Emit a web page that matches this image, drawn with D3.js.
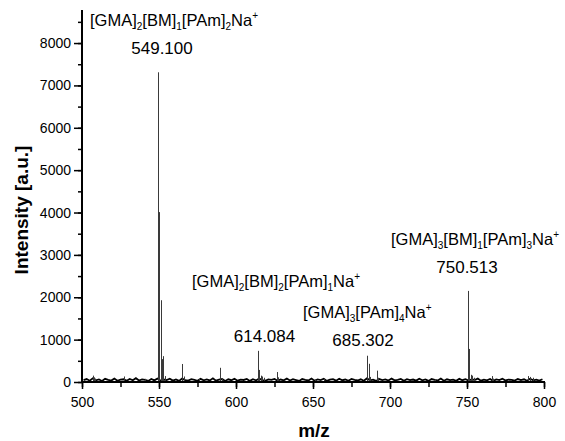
<!DOCTYPE html>
<html><head><meta charset="utf-8">
<script src="https://cdn.jsdelivr.net/npm/d3@7"></script>
<style>
html,body{margin:0;padding:0;background:#fff;}
svg{display:block;}
text{font-family:"Liberation Sans",Arial,Helvetica,sans-serif;fill:#000;}
</style></head>
<body>
<script>
// ---------- data ----------
const xTicks = [500, 550, 600, 650, 700, 750, 800];
const yTicks = [0, 1000, 2000, 3000, 4000, 5000, 6000, 7000, 8000];
const xTitle = "m/z";
const yTitle = "Intensity [a.u.]";

// peak positions (m/z) and intensities (a.u.)
const peakMz = [507.0, 507.8, 508.6, 527.3, 541.0, 549.1, 550.1, 551.1, 552.1, 552.8, 553.8,
  565.1, 566.1, 576.0, 589.7, 590.6, 614.08, 615.1, 616.1, 617.1, 618.1, 626.3, 627.3,
  651.0, 657.3, 685.3, 686.3, 687.3, 691.3, 692.3, 729.0, 750.5, 751.5, 752.5, 753.5,
  754.5, 766.0, 767.0, 789.8, 791.0, 792.6];
const peakInt = [150, 110, 80, 130, 75, 7310, 4010, 1930, 540, 610, 140,
  425, 130, 70, 335, 90, 735, 285, 150, 130, 100, 235, 110,
  60, 85, 620, 430, 120, 268, 100, 55, 2150, 780, 170, 150,
  100, 140, 80, 140, 120, 100];

// baseline noise, sampled every 2 m/z from 501
const noiseStart = 501, noiseStep = 2;
const noise = [45,70,30,85,40,60,25,75,50,35,80,30,55,65,28,72,40,90,35,60,
 48,25,70,38,82,30,58,44,76,32,62,26,80,46,34,68,52,28,74,40,
 60,36,86,30,54,70,24,64,42,78,32,56,48,72,26,66,38,84,44,30,
 62,50,74,28,58,40,80,34,66,46,24,70,52,36,82,30,60,44,76,26,
 54,68,32,78,42,58,28,72,48,36,64,30,84,40,56,26,70,46,62,34,
 80,38,52,74,28,66,44,58,32,76,40,60,26,70,50,36,82,30,64,46,
 56,28,74,42,68,34,60,48,80,30,54,40,72,26,62,44,78,36,58,50,
 32,70,46,64,28,76,40,56,34,66];

// annotations: formula parts [text, kind] and m/z label
const annFormulas = [
  [["[GMA]",""],["2","sub"],["[BM]",""],["1","sub"],["[PAm]",""],["2","sub"],["Na",""],["+","sup"]],
  [["[GMA]",""],["2","sub"],["[BM]",""],["2","sub"],["[PAm]",""],["1","sub"],["Na",""],["+","sup"]],
  [["[GMA]",""],["3","sub"],["[PAm]",""],["4","sub"],["Na",""],["+","sup"]],
  [["[GMA]",""],["3","sub"],["[BM]",""],["1","sub"],["[PAm]",""],["3","sub"],["Na",""],["+","sup"]]
];
const annLabels = ["549.100", "614.084", "685.302", "750.513"];

// ---------- drawing ----------
const W = 565, H = 441;
const svg = d3.select("body").append("svg").attr("width", W).attr("height", H);

const x = d3.scaleLinear().domain([500, 800]).range([82, 544]);
const y = d3.scaleLinear().domain([0, 8780]).range([382, 10]);

// noise line
const noisePts = noise.map((v, i) => [noiseStart + i * noiseStep, v]);
svg.append("path")
  .attr("d", d3.line().x(d => x(d[0])).y(d => y(d[1]))(noisePts))
  .attr("fill", "none").attr("stroke", "#000").attr("stroke-width", 1.8);

// peaks
svg.append("g").selectAll("line").data(peakMz).join("line")
  .attr("x1", d => Math.round(x(d)) + 0.5).attr("x2", d => Math.round(x(d)) + 0.5)
  .attr("y1", y(0)).attr("y2", (d, i) => y(peakInt[i]))
  .attr("stroke", "#3a3a3a").attr("stroke-width", 1);

// axes
const xMinor = d3.range(500, 801, 25);
const yMinor = d3.range(0, 8501, 500);
const gx = svg.append("g").attr("transform", `translate(0,${y(0)})`);
gx.call(d3.axisBottom(x).tickValues(xMinor).tickSize(5).tickFormat(""));
gx.call(g => g.selectAll(".tick line").attr("stroke-width", 1.5));
const gx2 = svg.append("g").attr("transform", `translate(0,${y(0)})`);
gx2.call(d3.axisBottom(x).tickValues(xTicks).tickSize(7).tickPadding(8).tickFormat(d3.format("d")));
gx2.selectAll(".tick line").attr("stroke-width", 1.5);
gx2.selectAll("text").attr("font-size", "14px").attr("font-family", null).attr("fill", "#000");
svg.selectAll(".domain").remove();
svg.append("line").attr("x1", x(500) - 1).attr("x2", x(800) + 1).attr("y1", y(0)).attr("y2", y(0))
  .attr("stroke", "#000").attr("stroke-width", 2);

const gy = svg.append("g").attr("transform", `translate(${x(500)},0)`);
gy.call(d3.axisLeft(y).tickValues(yMinor).tickSize(4).tickFormat(""));
gy.selectAll(".tick line").attr("stroke-width", 1.5);
const gy2 = svg.append("g").attr("transform", `translate(${x(500)},0)`);
gy2.call(d3.axisLeft(y).tickValues(yTicks).tickSize(8).tickPadding(3).tickFormat(d3.format("d")));
gy2.selectAll(".tick line").attr("stroke-width", 1.5);
gy2.selectAll("text").attr("font-size", "14px").attr("font-family", null).attr("fill", "#000");
svg.selectAll(".domain").remove();
svg.append("line").attr("x1", x(500)).attr("x2", x(500)).attr("y1", 10).attr("y2", y(0) + 1)
  .attr("stroke", "#000").attr("stroke-width", 2);

// axis titles
svg.append("text").attr("x", 314).attr("y", 437).attr("text-anchor", "middle")
  .attr("font-size", "19px").attr("font-weight", "bold").text(xTitle);
svg.append("text").attr("transform", "translate(28,210) rotate(-90)").attr("text-anchor", "middle")
  .attr("font-size", "19px").attr("font-weight", "bold").text(yTitle);

// annotations (pixel layout)
const annLayout = [
  {fx: 90, fy: 26, nx: 162, ny: 54},
  {fx: 192, fy: 287, nx: 264.5, ny: 342},
  {fx: 303, fy: 318, nx: 363, ny: 346},
  {fx: 391, fy: 245, nx: 467, ny: 273}
];
annFormulas.forEach((parts, i) => {
  const L = annLayout[i];
  const t = svg.append("text").attr("x", L.fx).attr("y", L.fy).attr("font-size", "16.5px");
  let shift = 0;
  parts.forEach(([s, kind]) => {
    const target = kind === "sub" ? 4 : kind === "sup" ? -7 : 0;
    t.append("tspan").attr("dy", target - shift)
      .attr("font-size", kind ? "10px" : null).text(s);
    shift = target;
  });
  svg.append("text").attr("x", L.nx).attr("y", L.ny).attr("text-anchor", "middle")
    .attr("font-size", "17px").text(annLabels[i]);
});
</script>
</body></html>
